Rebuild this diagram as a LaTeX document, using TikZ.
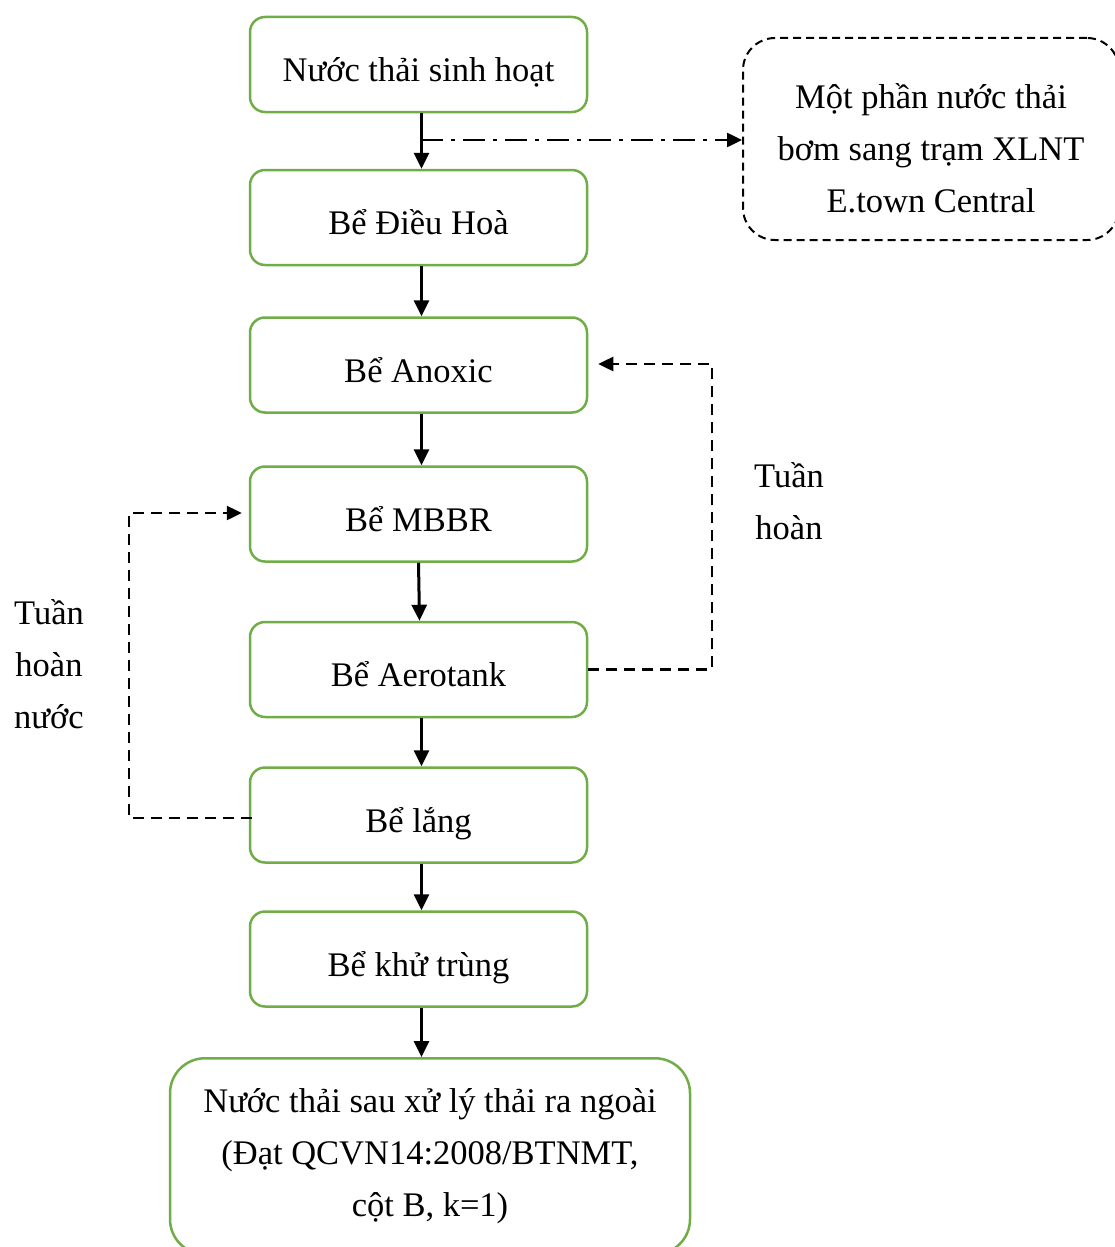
\documentclass[tikz,border=0pt]{standalone}
\usepackage{fontspec}
\setmainfont{Liberation Serif}
\usetikzlibrary{arrows.meta,positioning,calc}
\definecolor{boxgreen}{RGB}{112,173,71}
\tikzset{
  tank/.style={draw=boxgreen, line width=2.5pt, rounded corners=15pt, minimum width=337pt, minimum height=95pt, align=center, font=\fontsize{34.5}{52}\selectfont, inner sep=0pt, text height=34pt, text depth=0pt},
  bigtank/.style={draw=boxgreen, line width=2.5pt, rounded corners=35pt, minimum width=520pt, minimum height=196pt, align=center, font=\fontsize{34.5}{52}\selectfont, inner sep=0pt, yshift=2pt},
  dbox/.style={draw, line width=2pt, dash pattern=on 8pt off 5pt, rounded corners=32pt, minimum width=376pt, minimum height=202pt, inner sep=0pt},
  flow/.style={line width=3pt, -{Triangle[length=16pt,width=15pt]}},
  recyc/.style={line width=2.5pt, dash pattern=on 11pt off 7pt, -{Triangle[length=15pt,width=14pt]}},
  side/.style={line width=2.5pt, dash pattern=on 22pt off 8pt on 4pt off 8pt, -{Triangle[length=15pt,width=14pt]}},
  note/.style={align=center, font=\fontsize{34.5}{52}\selectfont, inner sep=0pt},
}
\begin{document}
\begin{tikzpicture}[x=1pt,y=-1pt]
\useasboundingbox (0,0) rectangle (1115,1247);
\clip (0,0) rectangle (1115,1247);
\node[tank] (b1) at (418.5,64.5) {Nước thải sinh hoạt};
\node[tank] (b2) at (418.5,217.5) {Bể Điều Hoà};
\node[tank] (b3) at (418.5,365) {Bể Anoxic};
\node[tank] (b4) at (418.5,514) {Bể MBBR};
\node[tank] (b5) at (418.5,669.5) {Bể Aerotank};
\node[tank] (b6) at (418.5,815) {Bể lắng};
\node[tank] (b7) at (418.5,959) {Bể khử trùng};
\node[bigtank, anchor=north] (b8) at (430,1059) {Nước thải sau xử lý thải ra ngoài\\(Đạt QCVN14:2008/BTNMT,\\cột B, k=1)};
\node[dbox, label={[note,yshift=-9pt]center:{Một phần nước thải\\bơm sang trạm XLNT\\E.town Central}}] (d1) at (931,139) {};
\node[note] (t1) at (789,501) {Tuần\\hoàn};
\node[note] (t2) at (49,664) {Tuần\\hoàn\\nước};
\draw[flow] ([xshift=3pt]b1.south) -- ([xshift=3pt]b2.north);
\draw[flow] ([xshift=3pt]b2.south) -- ([xshift=3pt]b3.north);
\draw[flow] ([xshift=3pt]b3.south) -- ([xshift=3pt]b4.north);
\draw[flow] ([xshift=0pt]b4.south) -- ([xshift=1pt]b5.north);
\draw[flow] ([xshift=3pt]b5.south) -- ([xshift=3pt]b6.north);
\draw[flow] ([xshift=3pt]b6.south) -- ([xshift=3pt]b7.north);
\draw[flow] ([xshift=3pt]b7.south) -- ([xshift=3pt]b7.south |- b8.north);
\coordinate (split) at (421,140);
\draw[side] (split) -- (d1.west |- split);
\draw[recyc] (b5.east) -- (712,669.5) -- (712,364) -- ([xshift=10pt,yshift=1pt]b3.east);
\draw[recyc] ([xshift=3pt,yshift=-3pt]b6.west) -- (129,818) -- (129,513) -- ([xshift=-7pt,yshift=1pt]b4.west);
\end{tikzpicture}
\end{document}
